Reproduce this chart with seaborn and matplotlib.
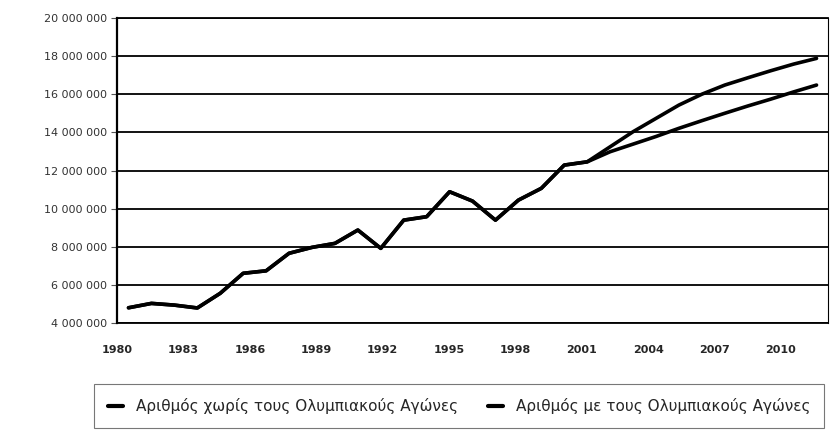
import numpy as np
import pandas as pd
import matplotlib
matplotlib.use("Agg")
import matplotlib.pyplot as plt
import seaborn as sns

years = list(range(1980, 2011))

history = [4.80, 5.03, 4.94, 4.79, 5.56, 6.61, 6.74, 7.66, 7.97, 8.18,
           8.88, 7.92, 9.40, 9.58, 10.89, 10.40, 9.40, 10.45, 11.07, 12.29,
           12.46]
without_games = [12.99, 13.39, 13.79, 14.22, 14.62, 15.01, 15.39, 15.75, 16.13, 16.49]
with_games = [13.25, 14.04, 14.74, 15.44, 16.01, 16.49, 16.87, 17.24, 17.59, 17.89]

series_names = ["Αριθμός χωρίς τους Ολυμπιακούς Αγώνες",
                "Αριθμός με τους Ολυμπιακούς Αγώνες"]

y_ticks = list(range(4_000_000, 20_000_001, 2_000_000))
x_label_years = list(range(1980, 2011, 3))

df = pd.DataFrame({
    "year": years * 2,
    "value": [v * 1e6 for v in history + without_games] + [v * 1e6 for v in history + with_games],
    "series": [series_names[0]] * len(years) + [series_names[1]] * len(years),
})

sns.set_theme(style="white")
plt.rcParams["font.family"] = ["DejaVu Sans"]

fig = plt.figure(figsize=(8.33, 4.33), dpi=100)
ax = fig.add_axes([0.1405, 0.254, 0.8535, 0.704])

sns.lineplot(data=df, x="year", y="value", hue="series", hue_order=series_names,
             palette=["black", "black"], linewidth=2.6, ax=ax, legend=False)

ax.set_xlim(1979.5, 2010.5)
ax.set_ylim(4_000_000, 20_000_000)
ax.set_yticks(y_ticks)
ax.set_yticklabels([f"{v:,}".replace(",", " ") for v in y_ticks], fontsize=8, color="#333333")
ax.yaxis.grid(True, color="black", linewidth=1.3)
ax.xaxis.grid(False)

# labels drift slightly left of the category edges in the scan
xt = [y - 0.5 - (y - 1980) * 0.035 for y in x_label_years]
ax.set_xticks(xt)
ax.set_xticklabels([str(y) for y in x_label_years], fontsize=8, fontweight="bold")
ax.tick_params(axis="x", length=4, width=0.8, color="#555555", pad=12, direction="out")
ax.tick_params(axis="y", length=4, width=0.8, color="#555555", pad=3, direction="out", left=True)
ax.set_xlabel("")
ax.set_ylabel("")

for side in ["left", "top", "right", "bottom"]:
    ax.spines[side].set_visible(True)
    ax.spines[side].set_color("black")
ax.spines["left"].set_linewidth(1.6)
ax.spines["top"].set_linewidth(1.3)
ax.spines["right"].set_linewidth(0.8)
ax.spines["bottom"].set_linewidth(1.3)

handles = [plt.Line2D([], [], color="black", linewidth=3) for _ in series_names]
leg = fig.legend(handles, series_names, loc="center left", bbox_to_anchor=(0.104, 0.062),
                 ncol=2, frameon=True, fontsize=11, handlelength=1.0, handletextpad=0.8,
                 columnspacing=2.0, borderpad=0.9, fancybox=False, edgecolor="#555555")
leg.get_frame().set_linewidth(0.8)

fig.savefig("out.png", dpi=100)
